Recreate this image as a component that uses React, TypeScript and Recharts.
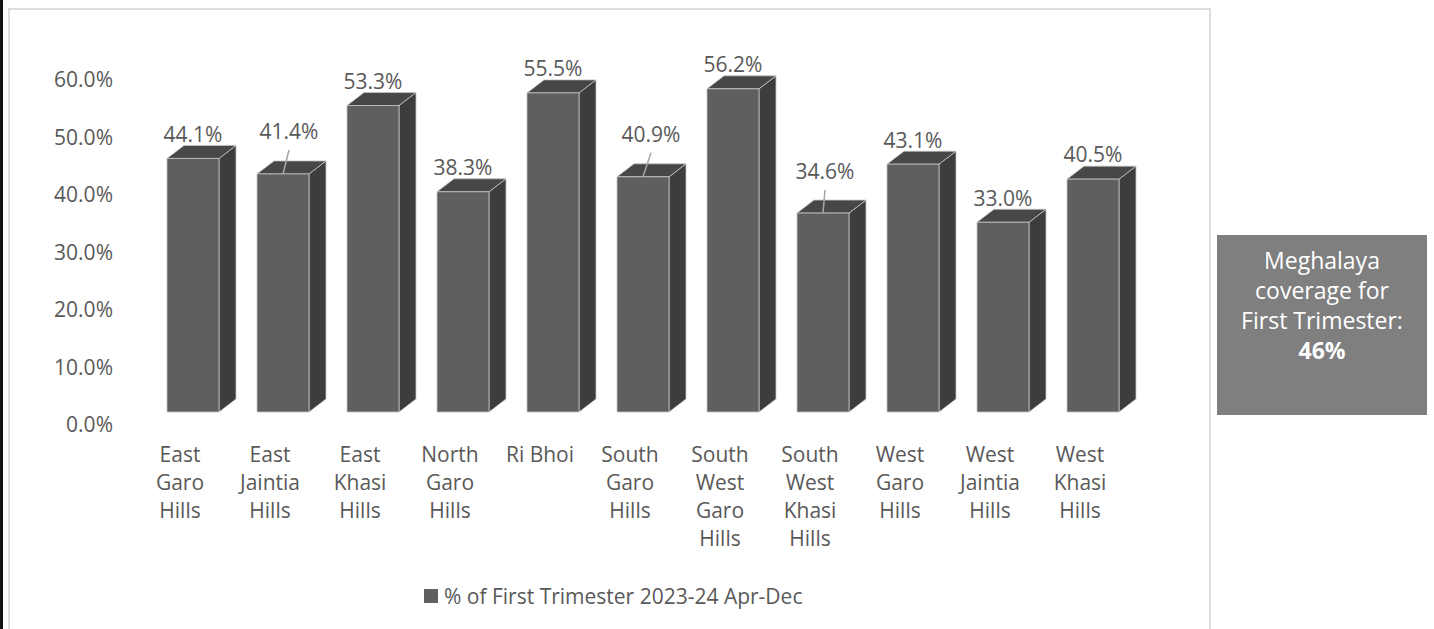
import { BarChart, Bar, XAxis, YAxis, Legend, LabelList } from 'recharts'

const DISTRICTS = [
    'East Garo Hills',
    'East Jaintia Hills',
    'East Khasi Hills',
    'North Garo Hills',
    'Ri Bhoi',
    'South Garo Hills',
    'South West Garo Hills',
    'South West Khasi Hills',
    'West Garo Hills',
    'West Jaintia Hills',
    'West Khasi Hills',
]
const FIRST_TRIMESTER = [44.1, 41.4, 53.3, 38.3, 55.5, 40.9, 56.2, 34.6, 43.1, 33.0, 40.5]
const Y_TICKS = [0, 10, 20, 30, 40, 50, 60]
const SERIES_NAME = '% of First Trimester 2023-24 Apr-Dec'
const STATE_NOTE = ['Meghalaya', 'coverage for', 'First Trimester:']
const STATE_VALUE = '46%'

const data = DISTRICTS.map((name, i) => ({ name, value: FIRST_TRIMESTER[i] }))

const FONT = '"Open Sans", sans-serif'
const TEXT = '#595959'
const DEPTH_X = 17
const DEPTH_Y = 13
const AXIS_SHIFT = 13 // labels sit on the back wall
// labels that Excel moved up, with a leader line
const LABEL_NUDGE: Record<number, [number, number]> = { 1: [6, 18], 5: [8, 18], 7: [2, 17] }

function wrap(label: string): string[] {
    const out: string[] = []
    for (const w of label.split(' ')) {
        const last = out[out.length - 1]
        if (last && (last + ' ' + w).length <= 7) out[out.length - 1] = last + ' ' + w
        else out.push(w)
    }
    return out
}

function Box3D(props: any) {
    const { x, y, width: w, height: h } = props
    const dx = DEPTH_X, dy = DEPTH_Y
    return (
        <g stroke="#c4c4c4" strokeWidth={0.8} strokeLinejoin="round">
            <polygon
                points={`${x + w},${y} ${x + w + dx},${y - dy} ${x + w + dx},${y + h - dy} ${x + w},${y + h}`}
                fill="#3d3d3d"
            />
            <polygon
                points={`${x},${y} ${x + dx},${y - dy} ${x + w + dx},${y - dy} ${x + w},${y}`}
                fill="#474747"
            />
            <rect x={x} y={y} width={w} height={h} fill="#5f5f5f" />
        </g>
    )
}

function ValueLabel(props: any) {
    const { x, y, width, value, index } = props
    const cx = x + width / 2
    const [nx, lift] = LABEL_NUDGE[index] || [0, 0]
    const ly = y - 24 - lift
    return (
        <g>
            {lift > 0 && (
                <line x1={cx + nx} y1={ly + 18} x2={cx} y2={y} stroke="#a6a6a6" strokeWidth={1.5} />
            )}
            <text x={cx + nx} y={ly} dy="0.35em" textAnchor="middle" fill={TEXT}
                fontSize={21} fontFamily={FONT}>
                {Number(value).toFixed(1)}%
            </text>
        </g>
    )
}

function XTick({ x, y, payload }: any) {
    const lines = wrap(payload.value)
    return (
        <text x={x - 13} y={y + 35} textAnchor="middle" fill={TEXT} fontSize={21} fontFamily={FONT}>
            {lines.map((l, i) => (
                <tspan key={i} x={x - 13} dy={i === 0 ? '0.35em' : 28}>{l}</tspan>
            ))}
        </text>
    )
}

function YTick({ y, payload }: any) {
    return (
        <text x={113} y={y + AXIS_SHIFT} dy="0.35em" textAnchor="end" fill={TEXT}
            fontSize={21} fontFamily={FONT}>
            {Number(payload.value).toFixed(1)}%
        </text>
    )
}

function LegendContent() {
    return (
        <div style={{ display: 'flex', alignItems: 'center', fontFamily: FONT, fontSize: 21, color: TEXT }}>
            <span style={{ width: 14, height: 14, background: '#5f5f5f', marginRight: 6 }} />
            <span>{SERIES_NAME}</span>
        </div>
    )
}

export default function App() {
    return (
        <div style={{ position: 'absolute', left: 0, top: 0, width: 1434, height: 629, overflow: 'hidden', background: '#fff' }}>
            <div style={{ position: 'absolute', left: 0, top: 0, width: 3, height: 629, background: '#111' }} />
            <div style={{ position: 'absolute', left: 8, top: 8, width: 1199, height: 700, border: '2px solid #dcdcdc' }} />

            <div style={{ position: 'absolute', left: 0, top: 0 }}>
                <BarChart width={1434} height={629} data={data}
                    margin={{ top: 67, right: 296, bottom: 117, left: 0 }}>
                    <XAxis dataKey="name" height={100} axisLine={false} tickLine={false}
                        interval={0} tick={<XTick />} />
                    <YAxis width={148} domain={[0, 60]} ticks={Y_TICKS} axisLine={false}
                        tickLine={false} tick={<YTick />} />
                    <Legend layout="horizontal" verticalAlign="middle" align="center"
                        content={<LegendContent />}
                        wrapperStyle={{ position: 'absolute', left: 424, top: 582, width: 'auto' }} />
                    <Bar dataKey="value" name={SERIES_NAME} barSize={52} fill="#5f5f5f"
                        shape={<Box3D />} isAnimationActive={false}>
                        <LabelList dataKey="value" content={<ValueLabel />} />
                    </Bar>
                </BarChart>
            </div>

            <div style={{
                position: 'absolute', left: 1217, top: 235, width: 210, height: 180,
                background: '#7f7f7f', color: '#fff', fontFamily: FONT, fontSize: 23,
                lineHeight: '30px', textAlign: 'center', paddingTop: 10, boxSizing: 'border-box',
            }}>
                {STATE_NOTE.map((l) => <div key={l}>{l}</div>)}
                <div style={{ fontWeight: 700 }}>{STATE_VALUE}</div>
            </div>
        </div>
    )
}
